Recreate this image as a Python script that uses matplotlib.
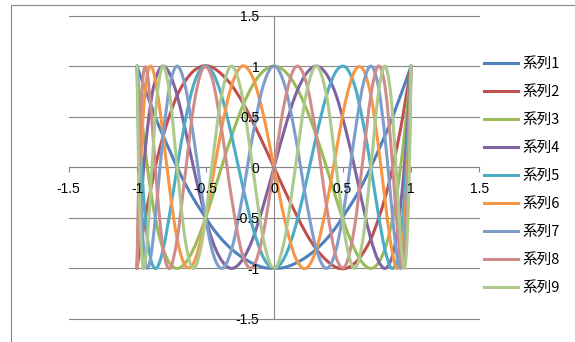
import matplotlib.pyplot as plt
from matplotlib.path import Path
from matplotlib.patches import PathPatch, Rectangle
from matplotlib.lines import Line2D
import numpy as np

plt.rcParams['axes.unicode_minus'] = False

# x positions shared by all series
x = [1.0, 0.997, 0.988, 0.972, 0.951, 0.924, 0.891, 0.853, 0.809, 0.760, 0.707,
     0.649, 0.588, 0.522, 0.454, 0.383, 0.309, 0.233, 0.156, 0.078, 0.0,
     -0.078, -0.156, -0.233, -0.309, -0.383, -0.454, -0.522, -0.588, -0.649, -0.707,
     -0.760, -0.809, -0.853, -0.891, -0.924, -0.951, -0.972, -0.988, -0.997, -1.0]

s1 = [1, .99, .95, .89, .81, .71, .59, .45, .31, .16, 0, -.16, -.31, -.45, -.59, -.71, -.81, -.89, -.95, -.99, -1,
      -.99, -.95, -.89, -.81, -.71, -.59, -.45, -.31, -.16, 0, .16, .31, .45, .59, .71, .81, .89, .95, .99, 1]
s2 = [1, .97, .89, .76, .59, .38, .16, -.08, -.31, -.52, -.71, -.85, -.95, -1.0, -.99, -.92, -.81, -.65, -.45, -.23, 0,
      .23, .45, .65, .81, .92, .99, 1.0, .95, .85, .71, .52, .31, .08, -.16, -.38, -.59, -.76, -.89, -.97, -1]
s3 = [1, .95, .81, .59, .31, 0, -.31, -.59, -.81, -.95, -1, -.95, -.81, -.59, -.31, 0, .31, .59, .81, .95, 1,
      .95, .81, .59, .31, 0, -.31, -.59, -.81, -.95, -1, -.95, -.81, -.59, -.31, 0, .31, .59, .81, .95, 1]
s4 = [1, .92, .71, .38, 0, -.38, -.71, -.92, -1, -.92, -.71, -.38, 0, .38, .71, .92, 1, .92, .71, .38, 0,
      -.38, -.71, -.92, -1, -.92, -.71, -.38, 0, .38, .71, .92, 1, .92, .71, .38, 0, -.38, -.71, -.92, -1]
s5 = [1, .89, .59, .16, -.31, -.71, -.95, -.99, -.81, -.45, 0, .45, .81, .99, .95, .71, .31, -.16, -.59, -.89, -1,
      -.89, -.59, -.16, .31, .71, .95, .99, .81, .45, 0, -.45, -.81, -.99, -.95, -.71, -.31, .16, .59, .89, 1]
s6 = [1, .85, .45, -.08, -.59, -.92, -.99, -.76, -.31, .23, .71, .97, .95, .65, .16, -.38, -.81, -1.0, -.89, -.52, 0,
      .52, .89, 1.0, .81, .38, -.16, -.65, -.95, -.97, -.71, -.23, .31, .76, .99, .92, .59, .08, -.45, -.85, -1]
s7 = [1, .81, .31, -.31, -.81, -1, -.81, -.31, .31, .81, 1, .81, .31, -.31, -.81, -1, -.81, -.31, .31, .81, 1,
      .81, .31, -.31, -.81, -1, -.81, -.31, .31, .81, 1, .81, .31, -.31, -.81, -1, -.81, -.31, .31, .81, 1]
s8 = [1, .76, .16, -.52, -.95, -.92, -.45, .23, .81, 1.0, .71, .08, -.59, -.97, -.89, -.38, .31, .85, .99, .65, 0,
      -.65, -.99, -.85, -.31, .38, .89, .97, .59, -.08, -.71, -1.0, -.81, -.23, .45, .92, .95, .52, -.16, -.76, -1]
s9 = [1, .71, 0, -.71, -1, -.71, 0, .71, 1, .71, 0, -.71, -1, -.71, 0, .71, 1, .71, 0, -.71, -1,
      -.71, 0, .71, 1, .71, 0, -.71, -1, -.71, 0, .71, 1, .71, 0, -.71, -1, -.71, 0, .71, 1]

series = [s1, s2, s3, s4, s5, s6, s7, s8, s9]
names = ['系列1', '系列2', '系列3', '系列4', '系列5', '系列6', '系列7', '系列8', '系列9']
colors = ['#4F81BD', '#C0504D', '#9BBB59', '#8064A2', '#4BACC6', '#F79646',
          '#7F9DCB', '#CF8C8A', '#ADC98C']
ticks = [-1.5, -1, -0.5, 0, 0.5, 1, 1.5]
tick_labels = ['-1.5', '-1', '-0.5', '0', '0.5', '1', '1.5']

gray = '#868686'


def smooth_path(xs, ys):
    # excel style smoothed line: bezier segments through every point
    p = np.column_stack([xs, ys])
    ext = np.vstack([p[0], p, p[-1]])
    verts = [p[0]]
    codes = [Path.MOVETO]
    for i in range(len(p) - 1):
        c1 = ext[i + 1] + (ext[i + 2] - ext[i]) / 6
        c2 = ext[i + 2] - (ext[i + 3] - ext[i + 1]) / 6
        verts += [c1, c2, p[i + 1]]
        codes += [Path.CURVE4] * 3
    return Path(verts, codes)


fig = plt.figure(figsize=(5.75, 3.42), dpi=100)
fig.add_artist(Rectangle((10.5 / 575, -0.1), 1.0, 1.1 - 5.5 / 342, transform=fig.transFigure,
                         fill=False, ec=gray, lw=0.8))

ax = fig.add_axes([68.5 / 575, 1 - 319 / 342, 411 / 575, 303.5 / 342])
ax.set_xlim(-1.5, 1.5)
ax.set_ylim(-1.5, 1.5)

# gridlines under the curves
for t in ticks:
    ax.axhline(t, color=gray, lw=0.8, zorder=0.5, clip_on=False)

for ys, c in zip(series, colors):
    ax.add_patch(PathPatch(smooth_path(x, ys), fill=False, ec=c, lw=2.2, zorder=3,
                           capstyle='round', joinstyle='round'))

ax.spines['top'].set_visible(False)
ax.spines['right'].set_visible(False)
ax.spines['left'].set_position(('data', 0))
ax.spines['bottom'].set_position(('data', 0))
for sp in ['left', 'bottom']:
    ax.spines[sp].set_color(gray)
    ax.spines[sp].set_linewidth(0.8)

ax.set_xticks(ticks)
ax.set_xticklabels(tick_labels)
ax.set_yticks(ticks)
ax.set_yticklabels(tick_labels)
ax.tick_params(direction='out', length=3.6, width=0.8, color=gray, pad=7)
for lab in ax.get_xticklabels() + ax.get_yticklabels():
    lab.set_family('Liberation Sans')
    lab.set_fontsize(10)
# tick labels drawn over the curves, like excel
ax.xaxis.set_zorder(4)
ax.yaxis.set_zorder(4)

handles = [Line2D([], [], color=c, lw=2.2) for c in colors]
fig.legend(handles, names, loc='upper left', bbox_to_anchor=(484 / 575, 1 - 57 / 342),
           frameon=False, borderpad=0, borderaxespad=0, handlelength=2.3, handletextpad=0.35,
           labelspacing=0.96, prop={'family': ['Noto Sans CJK JP', 'DejaVu Sans'], 'size': 10.5})

fig.savefig('out.png', dpi=100)
